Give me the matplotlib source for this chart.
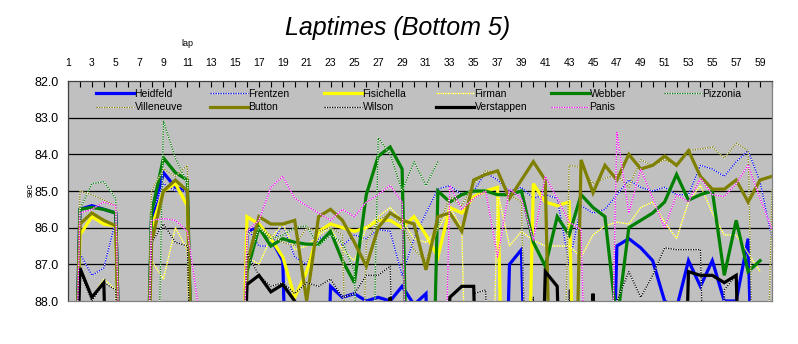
import numpy as np
import matplotlib.pyplot as plt
from matplotlib.legend import Legend

plt.rcParams['font.family'] = ['Liberation Sans', 'DejaVu Sans']

# X = lap time far off the chart (pit stop / safety car), N = no data
X = 99.0
N = np.nan

laps = list(range(1, 61))

heidfeld = [X, 85.5, 85.4, 85.5, 85.6, X, X, 85.8, 84.5, 84.9,
            85.0, X, X, X, X, 86.1, 86.0, 86.3, 86.9, X,
            X, X, 87.6, 87.9, 87.8, 88.0, 87.9, 88.0, 87.6, 88.1,
            87.8, X, X, X, X, X, X, 87.0, 86.6, X,
            X, X, X, X, X, X, 86.5, 86.3, 86.55, 86.9,
            88.0, 88.2, 86.9, 87.6, 86.9, 88.0, 88.0, 86.3, X, X]
frentzen = [X, 86.7, 87.3, 87.1, 85.8, X, X, 85.6, 84.8, 85.0,
            85.0, X, X, X, X, 86.0, 86.5, 86.5, 85.9, 86.8,
            87.0, 86.3, 86.2, 86.5, 86.2, 86.3, 86.05, 86.1, 87.3, 86.3,
            85.6, 84.95, 84.85, 85.1, 85.0, 84.5, 84.7, 85.0, 84.9, 85.2,
            85.1, 85.2, 87.0, 85.4, 85.6, 85.5, 85.1, 84.7, 84.9, 85.0,
            84.9, 85.1, 85.1, 84.3, 84.4, 84.6, 84.2, 83.9, 84.75, 86.3]
fisichella = [X, 86.2, 85.7, 85.9, 85.95, X, X, 86.0, 85.0, 84.8,
              85.4, X, X, X, X, 85.7, 85.9, 86.3, 86.8, 87.9,
              87.2, 86.1, 85.9, 86.0, 86.1, 86.0, 85.8, 85.8, 86.0, 85.7,
              86.2, 86.8, 85.45, 85.6, 85.15, 85.0, 84.9, X, X, 84.8,
              85.3, 85.4, 85.3, X, X, X, X, X, X, X,
              X, X, X, X, X, X, X, X, X, X]
firman = [X, X, 87.9, 87.4, 87.7, X, X, 86.9, 87.4, 86.0,
          86.6, X, X, X, X, 86.8, 87.0, 86.3, 85.9, 86.6,
          86.5, 86.2, 86.0, 86.6, 86.9, 86.0, 85.7, 85.45, 85.8, 86.3,
          86.4, 86.05, 85.45, 86.0, X, X, 85.0, 86.5, 86.1, 86.35,
          86.5, 86.5, 86.5, 86.8, 86.2, 85.95, 85.85, 85.9, 85.45, 85.3,
          85.85, 86.3, 85.3, 84.85, 85.6, 86.2, 86.2, 86.7, 87.2, N]
webber = [X, 85.5, 85.45, 85.5, 85.6, X, X, 85.6, 84.1, 84.5,
          84.7, X, X, X, X, 87.2, 86.0, 86.5, 86.3, 86.4,
          86.45, 86.45, 86.1, 86.9, 87.5, 85.1, 84.05, 83.8, 84.4, X,
          X, 85.0, 85.3, 85.1, 85.0, 85.0, 85.1, 85.1, 85.0, 86.4,
          87.05, 85.7, 86.2, 85.1, 85.45, 85.7, 88.6, 86.0, 85.8, 85.6,
          85.3, 84.55, 85.25, 85.1, 85.0, 87.3, 85.8, 87.2, 86.9, N]
pizzonia = [X, 85.5, 84.8, 84.75, 85.2, X, X, X, 83.1, 84.1,
            84.8, X, X, X, X, 87.0, 86.0, 86.3, 86.2, 86.0,
            85.95, 86.5, 86.2, 86.4, 87.2, X, 83.55, 84.0, 85.0, 84.2,
            84.85, 84.2, N, N, N, N, N, N, N, N,
            N, N, N, N, N, N, N, N, N, N,
            N, N, N, N, N, N, N, N, N, N]
villeneuve = [X, 85.0, 85.1, 85.25, 85.4, X, X, 85.0, 84.4, 84.6,
              84.3, X, X, X, X, 86.2, 86.0, 86.2, 86.4, 86.5,
              86.0, 86.1, 86.0, 86.2, X, 86.4, 85.8, 85.6, 85.9, 86.6,
              86.9, 86.0, 85.15, 85.4, 84.8, 84.45, 84.5, 85.1, 85.3, X,
              X, X, 84.3, 84.35, 84.8, 84.65, 84.55, 84.9, 84.15, 84.3,
              84.15, 84.3, 83.9, 83.85, 83.8, 84.1, 83.7, 83.9, X, 84.9]
button = [X, 85.9, 85.6, 85.8, 85.95, X, X, 86.4, 85.0, 84.7,
          85.0, X, X, X, X, 87.0, 85.7, 85.9, 85.9, 85.8,
          88.0, 85.7, 85.5, 85.8, 86.4, 87.05, 86.0, 85.6, 85.8, 85.9,
          87.15, 85.7, 85.6, 86.1, 84.7, 84.55, 84.45, 85.2, 84.7, 84.2,
          84.7, X, X, 84.15, 85.05, 84.3, 84.7, 84.0, 84.4, 84.3,
          84.05, 84.3, 83.9, 84.6, 84.95, 84.95, 84.7, 85.3, 84.7, 84.6]
wilson = [X, 87.2, 88.0, 87.5, 87.7, X, X, 86.4, 85.9, 86.4,
          86.5, X, X, X, X, 86.7, 87.3, 87.6, 87.5, 87.8,
          87.5, 87.6, 87.4, 87.9, 87.8, 87.3, 87.3, 87.05, X, X,
          X, X, X, X, 87.8, 87.7, X, X, X, 87.9,
          X, X, 87.7, X, 87.8, X, 88.0, 87.2, 87.9, 87.3,
          86.55, 86.6, 86.6, 86.6, X, 87.7, 87.3, X, X, X]
verstappen = [X, 87.1, 87.9, 87.5, X, X, X, X, X, X,
              X, X, X, X, X, 87.55, 87.3, 87.75, 87.55, 88.0,
              X, X, X, X, X, X, X, 87.9, X, X,
              X, X, 87.9, 87.6, 87.6, X, X, X, X, X,
              87.2, 87.6, X, X, 87.8, X, X, X, X, X,
              X, X, 87.2, 87.3, 87.3, 87.5, 87.3, X, X, X]
panis = [X, 85.6, 85.5, 85.3, 85.4, X, X, 85.8, 85.75, 85.8,
         86.1, 88.3, X, X, X, 86.1, 85.8, 84.9, 84.6, 85.2,
         85.4, 85.6, 85.8, 85.5, 85.7, 85.3, 85.1, 84.85, 85.3, X,
         X, X, 84.85, 85.5, 85.2, 85.0, 86.8, 84.95, 85.2, 86.35,
         84.6, 85.2, 85.85, 86.05, X, X, 83.4, 85.6, 84.4, 85.2,
         86.0, 85.1, 85.3, 84.65, 85.1, 85.15, 84.8, 84.3, 85.2, 86.05]

drivers = ["Heidfeld", "Frentzen", "Fisichella", "Firman", "Webber", "Pizzonia",
           "Villeneuve", "Button", "Wilson", "Verstappen", "Panis"]
series = [heidfeld, frentzen, fisichella, firman, webber, pizzonia,
          villeneuve, button, wilson, verstappen, panis]
colors = ["#0000FF", "#0000FF", "#FFFF00", "#FFFF00", "#008000", "#008000",
          "#808000", "#808000", "#000000", "#000000", "#FF00FF"]
thick = [True, False, True, False, True, False, False, True, False, True, False]

fig = plt.figure(figsize=(7.98, 3.44), dpi=100)
ax = fig.add_axes([68 / 798, 1 - 301 / 344, 704 / 798, 220 / 344])
ax.set_facecolor("#C0C0C0")

handles = []
for name, vals, c, t in zip(drivers, series, colors, thick):
    if t:
        ln, = ax.plot(laps, vals, color=c, lw=2.3, solid_joinstyle="miter")
    else:
        ln, = ax.plot(laps, vals, color=c, lw=0.9, linestyle=(0, (1, 1)),
                      gapcolor="white")
    handles.append(ln)

ax.set_ylim(88, 82)
ax.set_xlim(1, 60)
for v in range(83, 88):
    ax.axhline(v, color="black", lw=0.9, zorder=0.5)

ax.xaxis.tick_top()
ax.set_xticks(laps)
ax.set_xticklabels([str(l) if l % 2 == 1 and l < 60 else "" for l in laps])
ax.tick_params(axis="x", direction="in", length=4, width=0.8, labelsize=7.5, pad=9)
ax.set_yticks(range(82, 89))
ax.set_yticklabels([f"{v:.1f}" for v in range(82, 89)])
ax.tick_params(axis="y", length=0, labelsize=9, pad=7)
for s in ax.spines.values():
    s.set_color("#404040")
    s.set_linewidth(0.9)
ax.spines["right"].set_color("#808080")
ax.spines["bottom"].set_color("#808080")

# legend: 6 columns, 2 rows, like the excel one
col_x = [96, 210, 324, 436, 551, 664]
for i, x in enumerate(col_x):
    idx = [i] if i + 6 >= len(drivers) else [i, i + 6]
    leg = Legend(ax, [handles[j] for j in idx], [drivers[j] for j in idx],
                 loc="upper left", bbox_to_anchor=((x - 68) / 704, 0.965),
                 frameon=False, fontsize=7.5, handlelength=3.6,
                 handletextpad=0.1, borderpad=0, borderaxespad=0,
                 labelspacing=0.35)
    ax.add_artist(leg)

fig.text(398 / 798, 1 - 28 / 344, "Laptimes (Bottom 5)", ha="center", va="center",
         fontsize=18, style="italic")
fig.text(187 / 798, 1 - 43 / 344, "lap", ha="center", va="center", fontsize=6.5)
fig.text(30 / 798, 1 - 190 / 344, "sec", ha="center", va="center", fontsize=6.5,
         rotation=90)

fig.savefig("out.png", dpi=100)
